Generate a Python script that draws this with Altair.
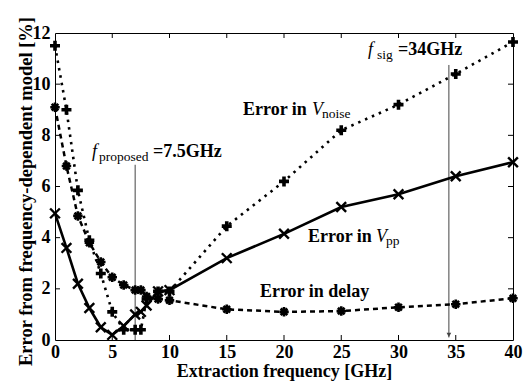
import altair as alt
import pandas as pd

# ---------------- data ----------------
freq = [0, 1, 2, 3, 4, 5, 6, 7, 7.5, 8, 9, 10, 15, 20, 25, 30, 35, 40]
err_vpp = [4.95, 3.6, 2.2, 1.25, 0.5, 0.2, 0.55, 1.0, 1.1, 1.35, 1.9, 1.95, 3.2, 4.15, 5.2, 5.7, 6.4, 6.95]
err_vnoise = [11.5, 9.0, 5.85, 3.9, 2.6, 1.1, 0.4, 0.4, 0.4, 1.6, 1.9, 1.9, 4.45, 6.2, 8.2, 9.2, 10.4, 11.65]
err_delay = [9.1, 6.8, 4.85, 3.8, 3.05, 2.45, 2.15, 1.95, 1.95, 1.7, 1.6, 1.55, 1.2, 1.1, 1.13, 1.28, 1.4, 1.63]

x_ticks = [0, 5, 10, 15, 20, 25, 30, 35, 40]
y_ticks = [0, 2, 4, 6, 8, 10, 12]

# marker lines (GHz, top of line in %)
proposed_x = [7.0]
proposed_top = [6.85]
sig_x = [34.4]
sig_top = [10.75]

# annotation anchors (data units)
ann_vnoise = (16.42, 8.79)
ann_vpp = (22.10, 3.83)
ann_delay = (17.90, 1.68)
ann_sig = (27.34, 11.13)
ann_prop = (3.23, 7.15)

FONT = "Liberation Serif"
W, H = 458, 307

xscale = alt.Scale(domain=[0, 40], nice=False, zero=False)
yscale = alt.Scale(domain=[0, 12], nice=False, zero=False)

xaxis = alt.Axis(values=x_ticks, format="d", title="Extraction frequency [GHz]",
                 ticks=False, tickSize=0, domain=False, grid=False,
                 labelFont=FONT, labelFontSize=18, labelFontWeight="bold", labelColor="black",
                 labelPadding=3, labelFlush=False,
                 titleFont=FONT, titleFontSize=18, titleFontWeight="bold", titleColor="black",
                 titleY=36, titleBaseline="alphabetic")
yaxis = alt.Axis(values=y_ticks, format="d", title="Error from frequency-dependent model [%]",
                 ticks=False, tickSize=0, domain=False, grid=False,
                 labelFont=FONT, labelFontSize=18, labelFontWeight="bold", labelColor="black",
                 labelPadding=5,
                 titleFont=FONT, titleFontSize=18.5, titleFontWeight="bold", titleColor="black",
                 titleX=-24, titleY=158, titleAngle=270, titleBaseline="alphabetic", titleAlign="center")


def X(f="x"):
    return alt.X(f"{f}:Q", scale=xscale, axis=xaxis)


def Y(f="y"):
    return alt.Y(f"{f}:Q", scale=yscale, axis=yaxis)


df_vpp = pd.DataFrame({"x": freq, "y": err_vpp})
df_vn = pd.DataFrame({"x": freq, "y": err_vnoise})
df_dl = pd.DataFrame({"x": freq, "y": err_delay})

X_SHAPE = "M-1,-1L1,1M-1,1L1,-1"
PLUS_SHAPE = "M-1,0L1,0M0,-1L0,1"
AST_SHAPE = "M-1,0L1,0M0,-1L0,1M-0.7,-0.7L0.7,0.7M-0.7,0.7L0.7,-0.7"

layers = []

# vertical marker lines
df_prop = pd.DataFrame({"x": proposed_x, "y": [0], "y2": proposed_top})
df_sig = pd.DataFrame({"x": sig_x, "y": [0.1], "y2": sig_top})
layers.append(alt.Chart(df_prop).mark_rule(color="#444", strokeWidth=1).encode(x=X(), y=Y(), y2="y2:Q"))
layers.append(alt.Chart(df_sig).mark_rule(color="#444", strokeWidth=1).encode(x=X(), y=Y(), y2="y2:Q"))
layers.append(alt.Chart(pd.DataFrame({"x": sig_x, "y": [0.2]})).mark_point(
    shape="triangle-down", filled=True, color="#444", size=22, opacity=1).encode(x=X(), y=Y()))

# delay
layers.append(alt.Chart(df_dl).mark_line(color="black", strokeWidth=2.5, strokeDash=[5, 4]).encode(x=X(), y=Y()))
layers.append(alt.Chart(df_dl).mark_point(shape=AST_SHAPE, size=90, filled=False, stroke="black",
                                          strokeWidth=2.6, opacity=1).encode(x=X(), y=Y()))
# vnoise
layers.append(alt.Chart(df_vn).mark_line(color="black", strokeWidth=2.6, strokeDash=[2.5, 5]).encode(x=X(), y=Y()))
layers.append(alt.Chart(df_vn).mark_point(shape=PLUS_SHAPE, size=100, filled=False, stroke="black",
                                          strokeWidth=3.6, opacity=1).encode(x=X(), y=Y()))
# vpp
layers.append(alt.Chart(df_vpp).mark_line(color="black", strokeWidth=2.6).encode(x=X(), y=Y()))
layers.append(alt.Chart(df_vpp).mark_point(shape=X_SHAPE, size=95, filled=False, stroke="black",
                                           strokeWidth=2.4, opacity=1).encode(x=X(), y=Y()))

# inward ticks on all four sides
df_xt = pd.DataFrame({"x": x_ticks[1:-1]})
df_yt = pd.DataFrame({"y": y_ticks[1:-1]})
tick_style = dict(color="black", strokeWidth=1)
layers.append(alt.Chart(df_xt).mark_rule(**tick_style).encode(x=X(), y=alt.value(0), y2=alt.value(5)))
layers.append(alt.Chart(df_xt).mark_rule(**tick_style).encode(x=X(), y=alt.value(H), y2=alt.value(H - 5)))
layers.append(alt.Chart(df_yt).mark_rule(**tick_style).encode(y=Y(), x=alt.value(0), x2=alt.value(5)))
layers.append(alt.Chart(df_yt).mark_rule(**tick_style).encode(y=Y(), x=alt.value(W), x2=alt.value(W - 5)))


def txt(anchor, text, dx=0, dy=0, size=18, weight="bold", style="normal"):
    d = pd.DataFrame({"x": [anchor[0]], "y": [anchor[1]], "t": [text]})
    return alt.Chart(d).mark_text(align="left", baseline="alphabetic", font=FONT, fontSize=size,
                                  fontWeight=weight, fontStyle=style, color="black",
                                  dx=dx, dy=dy).encode(x=X(), y=Y(), text="t:N")


SUB = 13.5
layers += [
    txt(ann_vnoise, "Error in"),
    txt(ann_vnoise, "V", dx=69, weight="normal", style="italic"),
    txt(ann_vnoise, "noise", dx=79, dy=3, size=SUB, weight="normal"),
    txt(ann_vpp, "Error in"),
    txt(ann_vpp, "V", dx=68, weight="normal", style="italic"),
    txt(ann_vpp, "pp", dx=78, dy=3, size=SUB, weight="normal"),
    txt(ann_delay, "Error in delay"),
    txt(ann_sig, "f", weight="normal", style="italic"),
    txt(ann_sig, "sig", dx=9, dy=4, size=SUB, weight="normal"),
    txt(ann_sig, "=34GHz", dx=30),
    txt(ann_prop, "f", weight="normal", style="italic"),
    txt(ann_prop, "proposed", dx=7, dy=4, size=SUB, weight="normal"),
    txt(ann_prop, "=7.5GHz", dx=61),
]

chart = alt.layer(*layers).properties(
    width=W, height=H,
    padding={"left": 55, "top": 33, "right": 12, "bottom": 42},
    autosize=alt.AutoSizeParams(type="none"),
    background="white",
).configure_view(stroke="black", strokeWidth=1)

chart.save("out.html", embed_options={"renderer": "svg", "actions": False})
